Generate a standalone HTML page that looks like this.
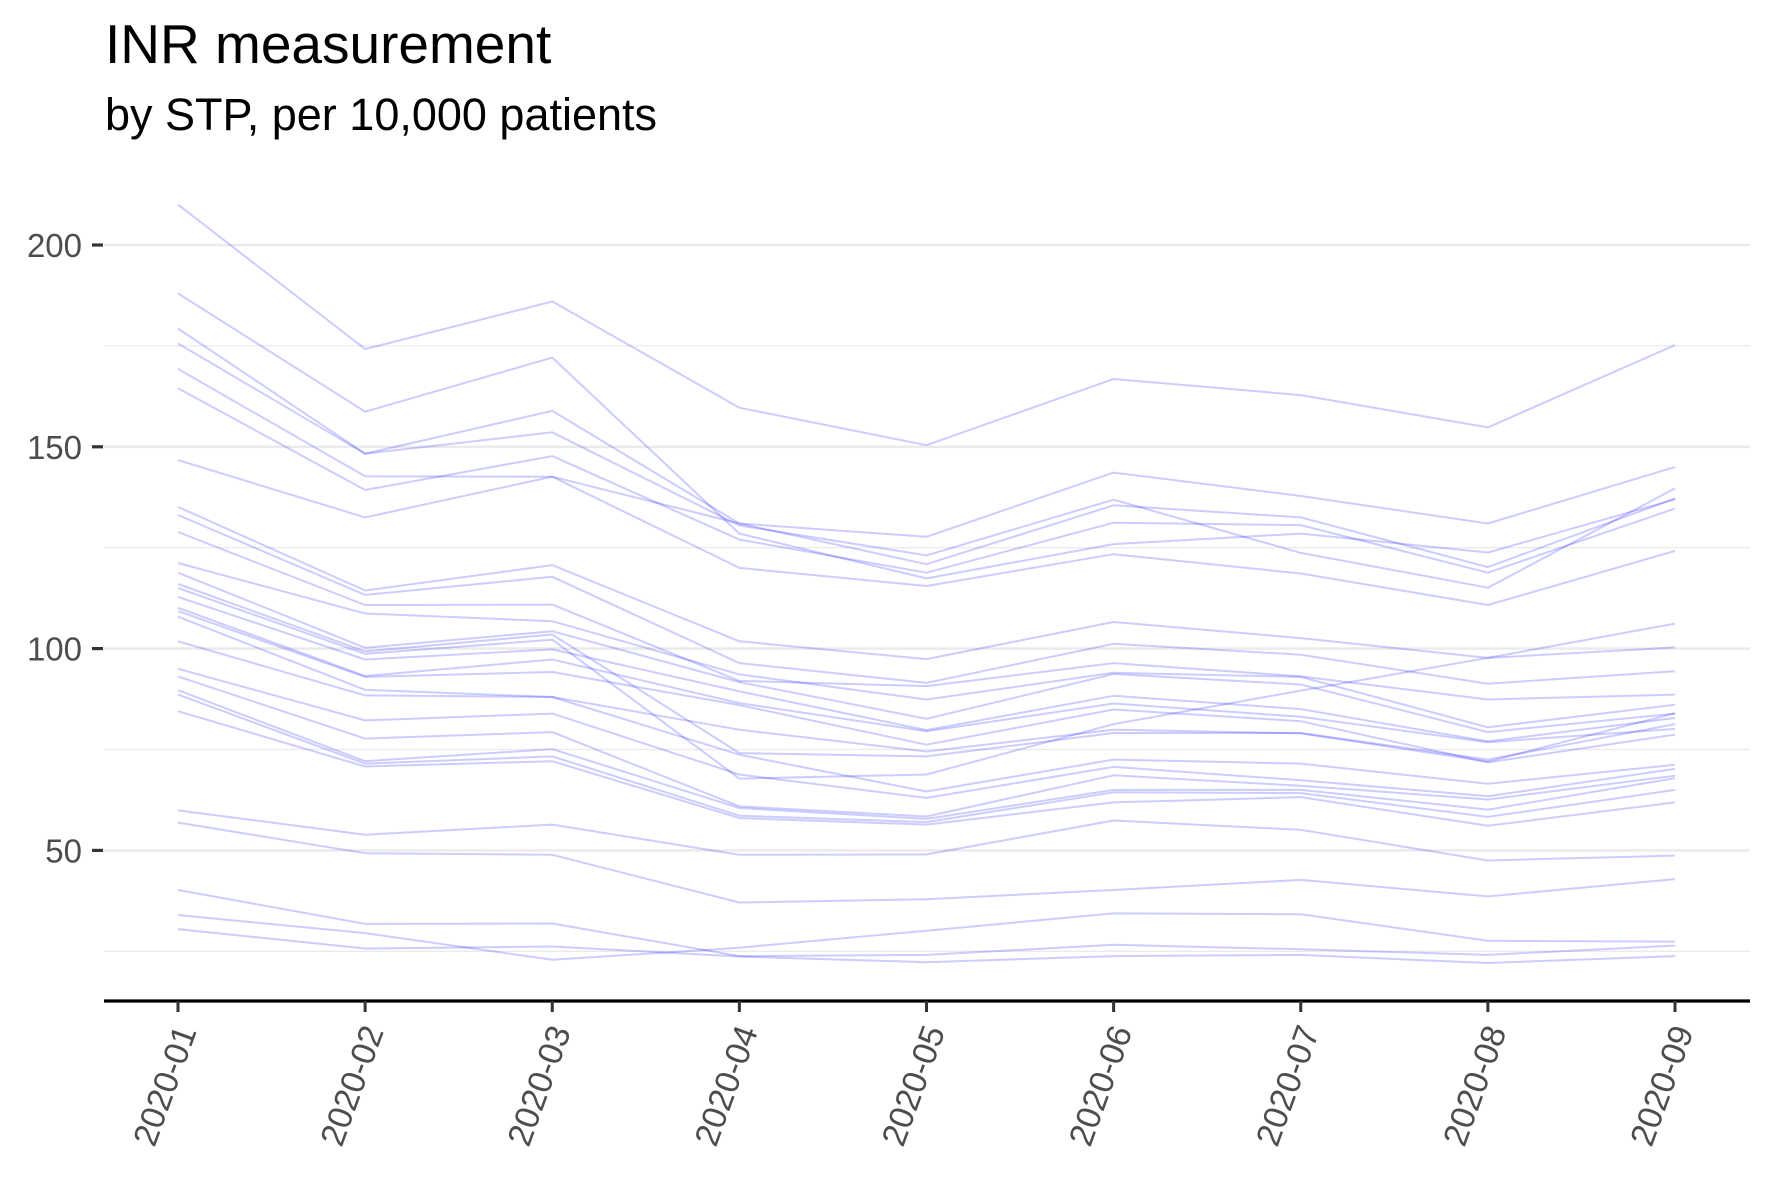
<!DOCTYPE html>
<html>
<head>
<meta charset="utf-8">
<style>
  html,body{margin:0;padding:0;background:#fff;}
  svg{display:block;}
  text{font-family:"Liberation Sans",Arial,sans-serif;}
</style>
</head>
<body>
<svg id="chart" width="1771" height="1181" viewBox="0 0 1771 1181" xmlns="http://www.w3.org/2000/svg">
  <rect x="0" y="0" width="1771" height="1181" fill="#fff"/>
  <text x="105" y="63" font-size="55" fill="#000">INR measurement</text>
  <text x="105" y="130" font-size="45" fill="#000">by STP, per 10,000 patients</text>
  <g id="grid"></g>
  <g id="lines"></g>
  <g id="axes"></g>
</svg>
<script>
const months = ["2020-01","2020-02","2020-03","2020-04","2020-05","2020-06","2020-07","2020-08","2020-09"];
const yMajorTicks = [50, 100, 150, 200];
const yMinorTicks = [25, 75, 125, 175];
const s01 = [210,174.2,186,159.7,150.4,166.8,162.8,154.8,175.2];
const s02 = [188,158.7,172.1,128.5,117.4,125.9,128.5,123.8,137];
const s03 = [179.3,148.3,158.9,131,127.7,143.6,137.8,131,145];
const s04 = [175.6,148.3,153.6,130.5,123.1,136.9,123.7,115.1,139.7];
const s05 = [169.3,142.7,142.6,131,120.9,135.5,132.5,120.2,137.2];
const s06 = [164.5,139.3,147.7,127,118.8,131.2,130.6,118.8,134.7];
const s07 = [146.7,132.5,142.6,120,115.5,123.4,118.6,110.8,124.2];
const s08 = [135.1,114.4,120.7,101.8,97.4,106.6,102.6,97.7,100.3];
const s09 = [133.1,113.3,117.8,96.4,91.5,101.2,98.5,91.3,94.4];
const s10 = [128.9,110.8,110.9,92,90.7,96.4,93.1,87.4,88.6];
const s11 = [121.2,108.7,106.8,93.6,87.4,94,93,80.5,86.1];
const s12 = [118.8,100.2,104.3,91.7,82.6,93.7,91.1,79.3,83.9];
const s13 = [116,99.3,103.5,74.1,73.3,79.1,79.1,72.5,81.3];
const s14 = [115,98.7,102.2,67.8,68.8,81.3,89.6,97.7,106.2];
const s15 = [112.8,97.3,99.8,89.4,79.8,88.3,85,77,82.8];
const s16 = [110.1,93.2,97.3,86.5,79.5,86.4,83.1,76.8,80.1];
const s17 = [109.3,93,94.2,86,76.2,84.9,82,71.8,78.7];
const s18 = [107.9,89.8,88,79.9,74.5,79.9,79,72,84];
const s19 = [101.8,88.4,88,73.7,64.6,72.5,71.5,66.5,71.2];
const s20 = [95,82.2,83.9,68.8,63,70.7,67.4,63.4,70.2];
const s21 = [93.1,77.7,79.3,60.9,58.4,68.6,66,62.6,68.5];
const s22 = [89.7,72.1,75.1,60.5,57.8,65,65,60.1,67.9];
const s23 = [88.6,71.5,73.3,58.6,57,64.4,64.2,58.3,65];
const s24 = [84.5,70.8,72.1,58,56.4,61.9,63.2,56.1,61.9];
const s25 = [59.9,53.9,56.4,48.9,49,57.4,55.1,47.5,48.7];
const s26 = [56.9,49.3,48.9,37.1,37.9,40.2,42.7,38.6,42.9];
const s27 = [40.2,31.8,31.9,23.8,24.1,26.6,25.5,24.1,26.4];
const s28 = [34,29.5,22.9,25.9,30.1,34.4,34.2,27.6,27.4];
const s29 = [30.5,25.7,26.2,23.7,22.3,23.8,24.1,22.1,23.8];
const seriesList = [s01,s02,s03,s04,s05,s06,s07,s08,s09,s10,s11,s12,s13,s14,s15,s16,s17,s18,s19,s20,s21,s22,s23,s24,s25,s26,s27,s28,s29];

const NS = "http://www.w3.org/2000/svg";
const PL = 104, PR = 1750, AXY = 1001;
const X0 = 178, X1 = 1675;
function xScale(i){ return X0 + (X1 - X0) * i / (months.length - 1); }
function yScale(v){ return 245 + (200 - v) * 4.036; }
function mk(tag, attrs, parent){
  const e = document.createElementNS(NS, tag);
  for (const k in attrs) e.setAttribute(k, attrs[k]);
  parent.appendChild(e);
  return e;
}
const grid = document.getElementById('grid');
const linesG = document.getElementById('lines');
const axes = document.getElementById('axes');

yMinorTicks.forEach(v => {
  const l = mk('line', {x1:PL, x2:PR, y1:yScale(v), y2:yScale(v), stroke:'#ebebeb', 'stroke-width':1.3}, grid);
  
  
});
yMajorTicks.forEach(v => {
  const l = mk('line', {x1:PL, x2:PR, y1:yScale(v), y2:yScale(v), stroke:'#ebebeb', 'stroke-width':2.6}, grid);
  
  
  const t = mk('line', {x1:92, x2:103, y1:yScale(v), y2:yScale(v), stroke:'#333', 'stroke-width':3.2}, axes);
  
  
  const lab = mk('text', {x:82, y:yScale(v)+12, 'text-anchor':'end', 'font-size':33, fill:'#4d4d4d'}, axes);
  lab.textContent = v;
  
  
});

seriesList.forEach(s => {
  const pts = s.map((v,i) => xScale(i).toFixed(1) + ',' + yScale(v).toFixed(1)).join(' ');
  const p = mk('polyline', {points:pts, fill:'none', stroke:'#0000ff', 'stroke-opacity':0.2, 'stroke-width':2, 'stroke-linejoin':'round'}, linesG);
  
  
});

const ax = mk('line', {x1:PL, x2:PR, y1:AXY, y2:AXY, stroke:'#000', 'stroke-width':3.3}, axes);


months.forEach((m,i) => {
  const x = xScale(i);
  const t = mk('line', {x1:x, x2:x, y1:AXY, y2:AXY+11, stroke:'#333', 'stroke-width':3}, axes);
  
  
  const ly = 1031, lx = x + 19;
  const lab = mk('text', {x:lx, y:ly, 'text-anchor':'end', 'font-size':34, fill:'#4d4d4d', transform:'rotate(-70 ' + lx + ' ' + ly + ')'}, axes);
  lab.textContent = m;
  
  
});
</script>
</body>
</html>
